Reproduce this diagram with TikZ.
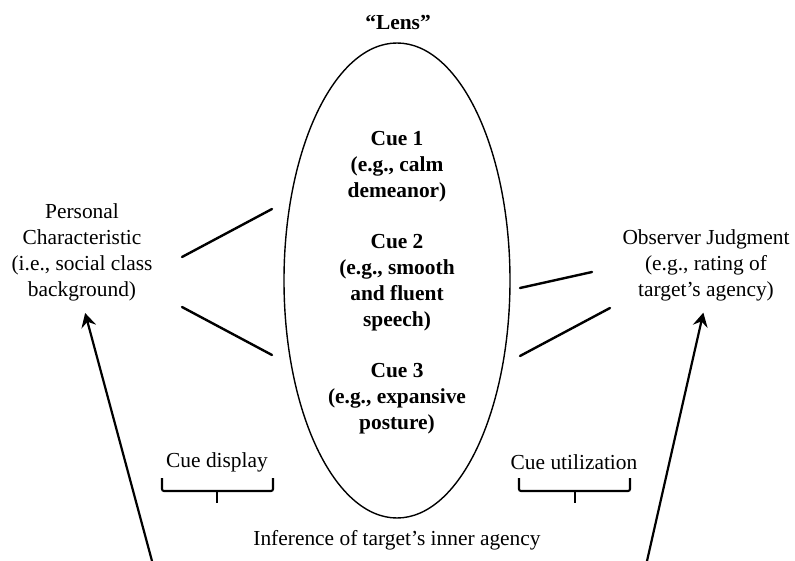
\documentclass[tikz,border=0pt]{standalone}
\usepackage{fontspec}
\setmainfont{Liberation Serif}
\usepackage{tikz}
\usetikzlibrary{arrows.meta,shapes,calc}
\tikzstyle{enlace}=[line width=2.4pt, line cap=round]
\tikzstyle{flecha}=[line width=2.2pt, -{Stealth[length=14pt,width=15pt,inset=5pt]}, shorten >=12pt]
\tikzstyle{llave}=[line width=2.1pt, rounded corners=2pt]

\begin{document}
\begin{tikzpicture}[x=1pt,y=-1pt,
          texto/.style={align=center,inner sep=0pt,font=\fontsize{21.4}{26}\selectfont},
          pista/.style={texto,font=\fontsize{21.4}{26}\selectfont\bfseries}]
        \useasboundingbox (0,0) rectangle (795,561);
        % lente y pistas
        \node [texto] (lens) at (398,22) {\textbf{“Lens”}};
        \node [draw, ellipse, line width=1.4pt, minimum width=226pt, minimum height=475pt] (lente) at (397,280.5) {};
        \node [pista] (cue1) at (397,167) {Cue 1\\(e.g., calm\\demeanor)};
        \node [pista] (cue2) at (397,283) {Cue 2\\(e.g., smooth\\and fluent\\speech)};
        \node [pista] (cue3) at (397,399) {Cue 3\\(e.g., expansive\\posture)};
        \node [texto] (pers) at (82,252.5) {Personal\\Characteristic\\(i.e., social class\\background)};
        \node [texto] (obs) at (706,265) {Observer Judgment\\(e.g., rating of\\target’s agency)};
        \node [texto] (disp) at (217,462) {Cue display};
        \node [texto] (util) at (574,462) {Cue utilization};
        \node [texto] (infer) at (397,540) {Inference of target’s inner agency};
        % segmentos
        \coordinate (a1) at (182,257);  \coordinate (b1) at (272,209);
        \coordinate (a2) at (182,307);  \coordinate (b2) at (272,355);
        \coordinate (c1) at (520,288);  \coordinate (d1) at (592,272);
        \coordinate (c2) at (520,356);  \coordinate (d2) at (610,308);
        \draw [enlace] (a1) -- (b1);
        \draw [enlace] (a2) -- (b2);
        \draw [enlace] (c1) -- (d1);
        \draw [enlace] (c2) -- (d2);
        % llaves
        \draw [llave] (162,478) |- (217,491) -| (273,478);
        \draw [llave] (217,491) -- (217,503);
        \draw [llave] (519,478) |- (575,491) -| (630,478);
        \draw [llave] (575,491) -- (575,503);
        % flechas
        \coordinate (ini1) at (152,561);
        \coordinate (ini2) at (647,561);
        \draw [flecha] (ini1) -- (pers.south);
        \draw [flecha] (ini2) -- (obs.south);
      \end{tikzpicture}
\end{document}
